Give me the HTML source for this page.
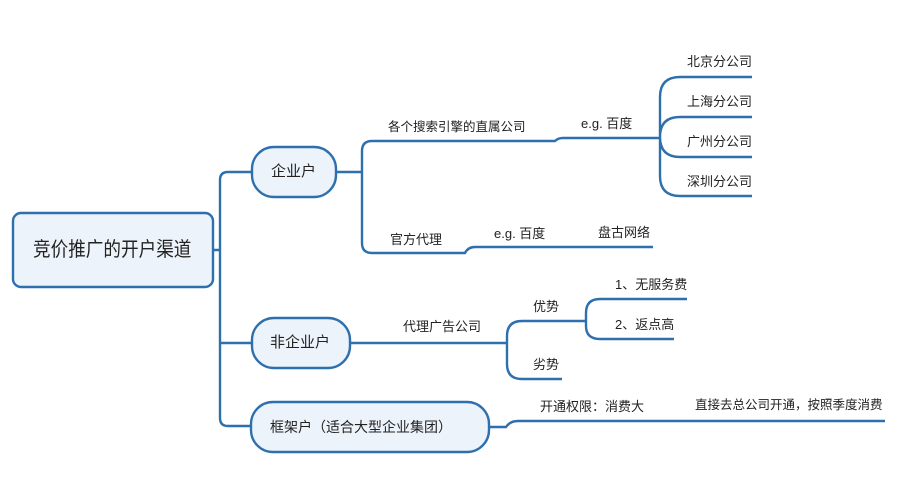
<!DOCTYPE html>
<html><head><meta charset="utf-8"><style>
body{margin:0;width:900px;height:500px;background:#fff;overflow:hidden;position:relative;font-family:"Liberation Sans","Noto Sans CJK SC",sans-serif;color:#222}
svg{position:absolute;left:0;top:0}
.t{position:absolute;font-size:13px;white-space:nowrap;line-height:16px}
</style></head><body>
<svg width="900" height="500" fill="none" stroke="#2e6fae" stroke-width="2.4">
<rect x="13" y="213" width="200" height="74" rx="8" fill="#edf3fa"/>
<rect x="252" y="147" width="84" height="50" rx="22" fill="#edf3fa"/>
<rect x="252" y="318" width="98" height="50" rx="22" fill="#edf3fa"/>
<rect x="251" y="402" width="238" height="50" rx="22" fill="#edf3fa"/>
<path d="M213 250 H220 M252 172 H228 Q220 172 220 180 V418 Q220 426 228 426 H251 M220 343 H252"/>
<path d="M336 172 H362 M372 141 Q362 141 362 151 V243 Q362 253 372 253 H465 Q468 247 475 247 H653 M372 141 H555 Q558 138 563 138 H660"/>
<path d="M680 77 Q660 77 660 97 V176 Q660 196 680 196 H752 M680 77 H752 M680 117 Q660 117 660 137 Q660 157 680 157 H752 M680 117 H752"/>
<path d="M350 343 H507 M522 321 Q507 321 507 336 V364 Q507 379 522 379 H562 M522 321 H586 M600 299 Q586 299 586 313 V326 Q586 339 600 339 H674 M600 299 H687"/>
<path d="M489 427 H506 Q510 421 518 421 H885"/>
</svg>
<div class="t" style="left:33px;top:238px;font-size:20px;line-height:24px;transform:scaleX(0.88);transform-origin:0 0">竞价推广的开户渠道</div>
<div class="t" style="left:271px;top:163px;font-size:15px;line-height:18px">企业户</div>
<div class="t" style="left:270px;top:334px;font-size:15px;line-height:18px">非企业户</div>
<div class="t" style="left:270px;top:418px;font-size:14px;line-height:18px">框架户（适合大型企业集团）</div>
<div class="t" style="left:388px;top:119px;font-size:12.5px">各个搜索引擎的直属公司</div>
<div class="t" style="left:581px;top:116px">e.g. 百度</div>
<div class="t" style="left:687px;top:54px">北京分公司</div>
<div class="t" style="left:687px;top:94px">上海分公司</div>
<div class="t" style="left:687px;top:134px">广州分公司</div>
<div class="t" style="left:687px;top:174px">深圳分公司</div>
<div class="t" style="left:390px;top:232px">官方代理</div>
<div class="t" style="left:494px;top:226px">e.g. 百度</div>
<div class="t" style="left:598px;top:225px">盘古网络</div>
<div class="t" style="left:403px;top:319px">代理广告公司</div>
<div class="t" style="left:533px;top:299px">优势</div>
<div class="t" style="left:533px;top:357px">劣势</div>
<div class="t" style="left:615px;top:277px">1、无服务费</div>
<div class="t" style="left:615px;top:317px">2、返点高</div>
<div class="t" style="left:540px;top:399px">开通权限：消费大</div>
<div class="t" style="left:695px;top:397px;font-size:12.5px">直接去总公司开通，按照季度消费</div>
</body></html>
